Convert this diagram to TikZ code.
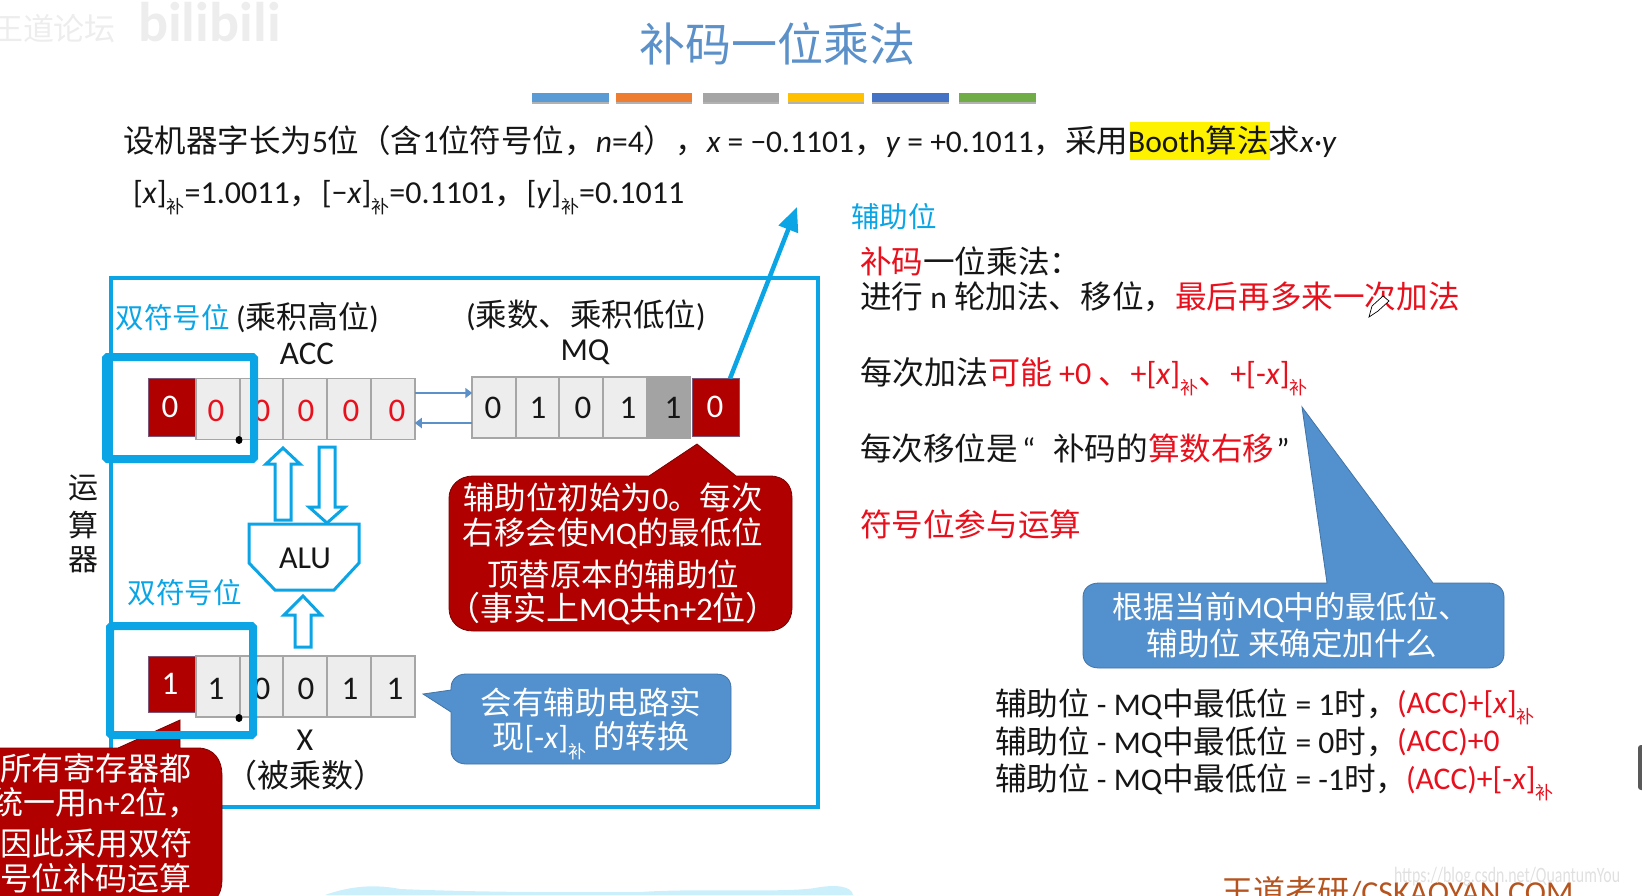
\documentclass[tikz,border=0pt]{standalone}
\usepackage{graphicx}
\usepackage{fontspec}
\setmainfont{Carlito}
\newfontfamily\cjk{Noto Sans CJK SC}
\usetikzlibrary{arrows.meta}
\newcommand{\C}[1]{{\cjk #1}}
\newcommand{\Fs}[1]{\fontsize{#1}{#1}\selectfont}
\newcommand{\Bu}{\raisebox{-0.32em}{\Fs{18}\cjk 补}}
\definecolor{cyanline}{HTML}{0BA5E6}
\definecolor{darkred}{HTML}{B00000}
\definecolor{calloutblue}{HTML}{5290CE}
\definecolor{txtred}{HTML}{E8101C}
\definecolor{ink}{HTML}{161616}
\definecolor{arrowblue}{HTML}{5B90C8}
\definecolor{footc}{HTML}{B5541F}
\tikzset{
  x=1pt,y=-1pt,
  every node/.style={inner sep=0pt,outer sep=0pt,text=ink},
  body/.style={anchor=west,font=\Fs{31.6}},
  mid/.style={anchor=center,font=\Fs{31}},
  regcell/.style={draw=black!35,line width=1.6pt,fill=black!7,minimum width=43.5pt,minimum height=61pt},
  redcell/.style={draw=arrowblue!60!darkred,line width=1pt,fill=darkred,minimum width=47pt,minimum height=58pt},
  digit/.style={font=\Fs{33}},
  frameline/.style={draw=cyanline,line width=3.5pt},
  thick frame/.style={draw=cyanline,line width=8pt,rounded corners=1.5pt},
  hollow/.style={draw=cyanline,line width=3pt,fill=white,line join=miter},
  redcall/.style={fill=darkred,draw=darkred!70!black,line width=0.8pt},
  bluecall/.style={fill=calloutblue,draw=calloutblue!80!black,line width=0.8pt},
  wtext/.style={text=white,font=\Fs{31.5}},
  cyantext/.style={text=cyanline,font=\Fs{28.5}\cjk},
  linkarrow/.style={draw=arrowblue,line width=2.2pt,-{Triangle[length=7pt,width=10pt]}},
}
\begin{document}
\begin{tikzpicture}
\useasboundingbox (0,0) rectangle (1642,895);
\clip (0,0) rectangle (1642,895);
% top-left faint watermarks
\node[anchor=west,font=\Fs{31}\cjk,text=black!7] (wmark) at (-8,29) {王道论坛};
\node[anchor=west,font=\Fs{56}\bfseries,text=black!7] (bili) at (138,22) {bilibili};
% title
\node[font=\Fs{46}\cjk,text=arrowblue] (title) at (777,44) {补码一位乘法};
% bars
\foreach \a/\b/\c in {532/609/5B9BD5,616/692/ED7D31,703/779/A5A5A5,788/864/FFC000,872/949/4472C4,959/1036/70AD47}{
  \fill[black!30] (\a,95) rectangle (\b,104);
  \definecolor{barc}{HTML}{\c}
  \fill[barc] (\a,93) rectangle (\b,102);
}
% statement
\fill[yellow] (1130,122) rectangle (1270,160);
\node[body,font=\Fs{31.5}] (line1) at (123,142) {\C{设机器字长为}5\C{位（含}1\C{位符号位，}\textit{n}=4\C{），}\textit{x} = −0.1101\C{，}\textit{y} = +0.1011\C{，采用}Booth\C{算法求}\textit{x·y}};
\node[body,font=\Fs{32}] (line2) at (133,198) {[\textit{x}]\Bu=1.0011\C{，}[−\textit{x}]\Bu=0.1101\C{，}[\textit{y}]\Bu=0.1011};
% main frame
\draw[frameline] (111,278) rectangle (818,807);
% ACC
\node[redcell] (asign) at (171.5,407.5) {};
\node[regcell] (a1) at (218,409) {};
\node[regcell] (a2) at (261.5,409) {};
\node[regcell] (a3) at (305,409) {};
\node[regcell] (a4) at (349,409) {};
\node[regcell] (a5) at (393,409) {};
\node[digit,text=white] (d0) at (170,407) {0};
\foreach \n/\x in {d1/216,d2/262,d3/306,d4/351,d5/397}{\node[digit,text=txtred] (\n) at (\x,411) {0};}
% MQ
\node[regcell] (m1) at (494,407.5) {};
\node[regcell] (m2) at (537.5,407.5) {};
\node[regcell] (m3) at (581,407.5) {};
\node[regcell] (m4) at (625,407.5) {};
\node[regcell,fill=black!36,draw=black!36] (m5) at (668.5,407.5) {};
\node[redcell] (aux) at (716,407.5) {};
\foreach \n/\x/\t in {q1/493/0,q2/538/1,q3/583/0,q4/628/1,q5/673/1}{\node[digit] (\n) at (\x,408) {\t};}
\node[digit,text=white] (auxd) at (715,407) {0};
% ACC <-> MQ
\draw[linkarrow] ([yshift=16pt]a5.east) -- ([yshift=14.5pt]m1.west);
\draw[linkarrow] ([yshift=-15.5pt]m1.west) -- ([yshift=-14pt]a5.east);
% labels
\node[cyantext] (dbl1) at (172.5,318) {双符号位};
\node[body,font=\Fs{31}] (acch) at (236,318) {(\C{乘积高位})};
\node[font=\Fs{33}] (acc) at (307,354) {ACC};
\node[body,font=\Fs{31.5}] (mqh) at (466,315) {(\C{乘数、乘积低位})};
\node[font=\Fs{32}] (mq) at (585,352) {MQ};
\node[cyantext] (dbl2) at (184.5,593) {双符号位};
\node[font=\Fs{30}\cjk] (y1) at (83,488) {运};
\node[font=\Fs{30}\cjk] (y2) at (83,525) {算};
\node[font=\Fs{30}\cjk] (y3) at (83,560) {器};
% ALU and hollow arrows
\draw[hollow] (283,448) -- (300,464) -- (291,464) -- (291,520) -- (275,520) -- (275,464) -- (266,464) -- cycle;
\draw[hollow] (319,447) -- (335,447) -- (335,507) -- (345,507) -- (327,523) -- (309,507) -- (319,507) -- cycle;
\draw[hollow,fill=white] (249,524) -- (359,524) -- (359,563) -- (334,590) -- (275,590) -- (249,563) -- cycle;
\node[font=\Fs{32}] (alu) at (305,558) {ALU};
\draw[hollow] (303,596) -- (321,615) -- (311,615) -- (311,647) -- (295,647) -- (295,615) -- (284,615) -- cycle;
% X register
\node[redcell,minimum height=56pt] (xsign) at (171.5,684.5) {};
\node[regcell] (x1) at (218,686.5) {};
\node[regcell] (x2) at (261.5,686.5) {};
\node[regcell] (x3) at (305,686.5) {};
\node[regcell] (x4) at (349,686.5) {};
\node[regcell] (x5) at (393,686.5) {};
\node[digit,text=white] (xd0) at (170,684) {1};
\foreach \n/\x/\t in {xd1/216/1,xd2/262/0,xd3/306/0,xd4/350/1,xd5/395/1}{\node[digit] (\n) at (\x,689) {\t};}
\node[font=\Fs{32}] (xname) at (305,740) {X};
\node[font=\Fs{32}\cjk] (xdesc) at (305,775) {（被乘数）};
% big arrow
\coordinate (auxlabel) at (797,207);
\draw[draw=cyanline,line width=4.5pt,-{Triangle[length=24pt,width=20pt]}] ([xshift=14pt]aux.north) -- (auxlabel);
\node[cyantext,anchor=west] (auxname) at (851,217) {辅助位};
% red callout 1
\draw[redcall] (649,476) -- (697,444) -- (736,476) -- (770,476)
  .. controls (785,476) and (792,486) .. (792,498) -- (792,608)
  .. controls (792,622) and (782,631) .. (768,631) -- (473,631)
  .. controls (459,631) and (449,622) .. (449,608) -- (449,498)
  .. controls (449,486) and (459,476) .. (473,476) -- cycle;
\node[wtext] (r1a) at (613,497) {\C{辅助位初始为}0\C{。每次}};
\node[wtext] (r1b) at (613,533) {\C{右移会使}MQ\C{的最低位}};
\node[wtext] (r1c) at (613,574) {\C{顶替原本的辅助位}};
\node[wtext,font=\Fs{33}] (r1d) at (613,609) {\C{（事实上}MQ\C{共}n+2\C{位）}};
% red callout 2 (tail under the thick frame)
\draw[redcall] (-10,748) -- (118,748) -- (180,720) -- (180,748) -- (198,748)
  .. controls (214,748) and (222,760) .. (222,775) -- (222,880)
  .. controls (222,895) and (214,905) .. (200,905) -- (-10,905) -- cycle;
\node[wtext,anchor=west,font=\Fs{32}] (r2a) at (0,768) {\C{所有寄存器都}};
\node[wtext,anchor=west,font=\Fs{32}] (r2b) at (-9,803) {\C{统一用}n+2\C{位，}};
\node[wtext,anchor=west,font=\Fs{32}] (r2c) at (1,843) {\C{因此采用双符}};
\node[wtext,anchor=west,font=\Fs{32}] (r2d) at (0,878) {\C{号位补码运算}};
% thick frames
\draw[thick frame] (106,357) rectangle (254,459);
\draw[thick frame] (110,626) rectangle (253,735);
\fill[black] (239,440) ellipse (3.5 and 4);
\fill[black] (239,718) ellipse (3.5 and 4);
% blue callout 3
\draw[bluecall] (423,694) -- (451,690) -- (451,688)
  .. controls (451,679) and (458,674) .. (466,674) -- (716,674)
  .. controls (725,674) and (731,679) .. (731,688) -- (731,750)
  .. controls (731,759) and (725,764) .. (716,764) -- (466,764)
  .. controls (458,764) and (451,759) .. (451,750) -- (451,712) -- cycle;
\node[wtext] (b1a) at (591,702) {\C{会有辅助电路实}};
\node[wtext,font=\Fs{32}] (b1b) at (591,741) {\C{现}[-\textit{x}]{\color{white}\Bu} \C{的转换}};
% right column
\node[body] (t1) at (860,261) {{\color{txtred}\C{补码}}\C{一位乘法：}};
\node[body] (t2) at (860,297) {\C{进行} n \C{轮加法、移位，}{\color{txtred}\C{最后再多来一次加法}}};
\node[body,font=\Fs{32}] (t3) at (860,377) {\C{每次加法}{\color{txtred}\C{可能} +0 \C{、}+[\textit{x}]\Bu\C{、}+[-\textit{x}]\Bu}};
\node[body] (t4) at (860,448) {\C{每次移位是}\hspace{4pt}“\hspace{18pt}\C{补码的}{\color{txtred}\C{算数右移}}\hspace{2pt}”};
\node[body,text=txtred] (t5) at (860,524) {\C{符号位参与运算}};
% pencil cursor
\draw[black,fill=white,line width=0.7pt] (1369,317) -- (1372,306) -- (1383,296) -- (1389,301) -- (1378,311) -- cycle;
% blue callout 4
\draw[bluecall] (1327,583) -- (1302,407) -- (1433,583) -- (1488,583)
  .. controls (1498,583) and (1504,589) .. (1504,597) -- (1504,654)
  .. controls (1504,662) and (1498,668) .. (1488,668) -- (1099,668)
  .. controls (1089,668) and (1083,662) .. (1083,654) -- (1083,597)
  .. controls (1083,589) and (1089,583) .. (1099,583) -- cycle;
\node[wtext,font=\Fs{31}] (b2a) at (1291,607) {\C{根据当前}MQ\C{中的最低位、}};
\node[wtext] (b2b) at (1292,643) {\C{辅助位} \C{来确定加什么}};
% rules
\node[body] (c1) at (995,704) {\C{辅助位} - MQ\C{中最低位} = 1\C{时，}};
\node[body] (c2) at (995,742) {\C{辅助位} - MQ\C{中最低位} = 0\C{时，}};
\node[body] (c3) at (995,779) {\C{辅助位} - MQ\C{中最低位} = -1\C{时，}};
\node[body,text=txtred] (r1) at (1397,708) {(ACC)+[\textit{x}]{\color{txtred}\Bu}};
\node[body,text=txtred] (r2) at (1397,742) {(ACC)+0};
\node[body,text=txtred] (r3) at (1406,784) {(ACC)+[-\textit{x}]{\color{txtred}\Bu}};
% footer
\fill[cyan!20] (325,895) .. controls (350,886) and (375,884) .. (400,889) .. controls (500,893) and (580,892) .. (640,892)
  .. controls (700,888) and (780,893) .. (815,888) .. controls (835,884) and (852,886) .. (853,895) -- cycle;
\node[anchor=west,font=\Fs{32},text=footc] (foot) at (1221,891) {\C{王道考研}/CSKAOYAN.COM};
\node[anchor=west,font=\Fs{22},text=black!12] (csdn) at (1394,877) {\scalebox{0.72}[1]{https://blog.csdn.net/QuantumYou}};
\fill[black!65,rounded corners=3pt] (1638,745) rectangle (1650,790);
\end{tikzpicture}
\end{document}
